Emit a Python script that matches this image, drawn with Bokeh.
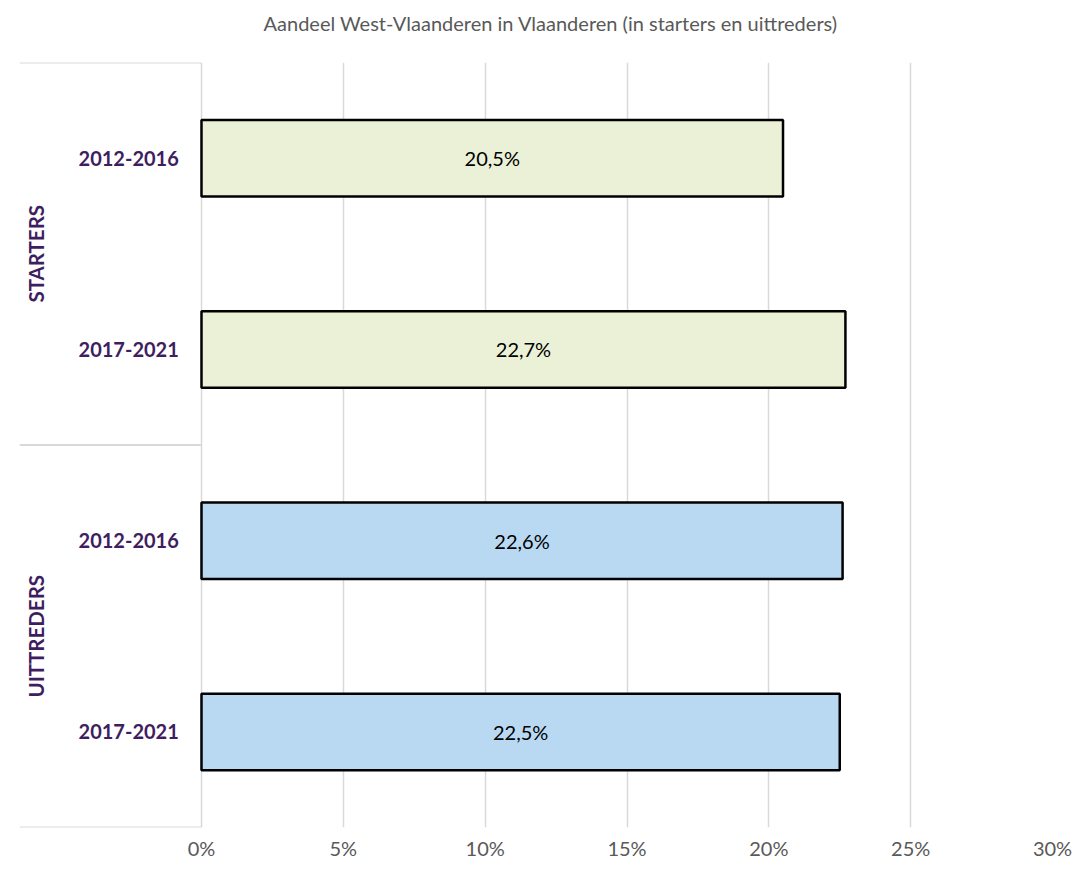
import math
from bokeh.plotting import figure
from bokeh.models import Range1d, FixedTicker, ColumnDataSource, Title
from bokeh.core.properties import value
from bokeh.embed import file_html
from bokeh.resources import INLINE

# ---- data ----
title_text = "Aandeel West-Vlaanderen in Vlaanderen (in starters en uittreders)"
groups = ["STARTERS", "UITTREDERS"]
periods = ["2012-2016", "2017-2021"]
starters = [20.5, 22.7]
uittreders = [22.6, 22.5]
group_colors = ["#EBF1D7", "#B9D9F3"]
ticks = [0, 5, 10, 15, 20, 25, 30]
tick_labels = ["0%", "5%", "10%", "15%", "20%", "25%", "30%"]

FONT = "Lato"
PURPLE = "#3F1E5F"
GRID = "#D9D9D9"

series = [starters, uittreders]
ys, vals, cols, labs, per = [], [], [], [], []
idx = 0
for g, s, c in zip(groups, series, group_colors):
    for p_, v in zip(periods, s):
        ys.append(idx + 0.5)
        vals.append(v)
        cols.append(c)
        labs.append(f"{v:.1f}".replace(".", ",") + "%")
        per.append(p_)
        idx += 1
n = idx

src = ColumnDataSource(dict(y=ys, v=vals, half=[v / 2 for v in vals], c=cols, lab=labs, per=per))

x_start = -6.416
p = figure(width=1080, height=862, output_backend="svg", toolbar_location=None, title=None,
           x_range=Range1d(x_start, 30), y_range=Range1d(n, 0),
           min_border_left=19, min_border_right=28, min_border_top=62, min_border_bottom=35)
p.outline_line_color = None
p.yaxis.visible = False
p.ygrid.visible = False

p.xgrid.ticker = FixedTicker(ticks=ticks)
p.xgrid.grid_line_color = GRID
p.xgrid.grid_line_width = 1.5

p.xaxis.ticker = FixedTicker(ticks=ticks)
p.xaxis.major_label_overrides = {t: l for t, l in zip(ticks, tick_labels)}
p.xaxis.axis_line_color = None
p.xaxis.major_tick_line_color = None
p.xaxis.minor_tick_line_color = None
p.xaxis.major_label_text_font = FONT
p.xaxis.major_label_text_font_size = "20px"
p.xaxis.major_label_text_color = "#595959"
p.xaxis.major_label_standoff = 2

# spacer between frame and title, then the title
p.add_layout(Title(text=" ", text_font_size="10px", standoff=15), "above")
p.add_layout(Title(text=title_text, align="left", offset=244, standoff=0,
                   text_font=FONT, text_font_size="20px", text_font_style="normal",
                   text_color="#595959"), "above")

# separators in the label area
sep_y = [0.0]
acc = 0
for s in series:
    acc += len(s)
    sep_y.append(float(acc))
p.segment(x0=[x_start] * len(sep_y), x1=[0] * len(sep_y), y0=sep_y, y1=sep_y,
          line_color=GRID, line_width=2)

p.hbar(y="y", left=0, right="v", height=0.40, fill_color="c", line_color="black",
       line_width=2.5, source=src)

p.text(x="half", y="y", text="lab", source=src, text_align="center", text_baseline="middle",
       text_font=value(FONT), text_font_size="20px", text_color="black")

p.text(x=-0.8, y="y", text="per", source=src, text_align="right", text_baseline="middle",
       text_font=value(FONT), text_font_size="20px", text_font_style="bold", text_color=PURPLE)

gy = []
acc = 0
for s in series:
    gy.append(acc + len(s) / 2)
    acc += len(s)
p.text(x=[-5.85] * len(groups), y=gy, text=groups, angle=math.pi / 2, text_align="center",
       text_baseline="middle", text_font=value(FONT), text_font_size="20.5px",
       text_font_style="bold", text_color=PURPLE)

open("out.html", "w").write(file_html(p, INLINE))
